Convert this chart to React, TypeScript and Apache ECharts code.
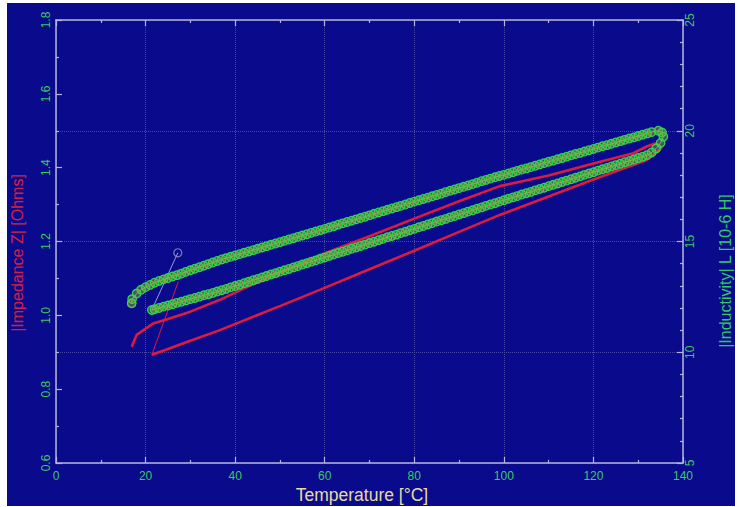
import React, { useEffect, useRef } from "react";
import * as echarts from "echarts";

// Temperature axis ticks / ranges
const xTicks = { min: 0, max: 140, interval: 20 };
const zTicks = { min: 0.6, max: 1.8, interval: 0.2 };
const lTicks = { min: 5, max: 25, interval: 5 };

// |Impedance Z| [Ohms] vs temperature [°C]
const redStart: number[][] = [[27.3, 1.091], [21.4, 0.893]];
const redHeating: number[][] = [
  [21.4, 0.893], [25, 0.909], [30, 0.931], [36.6, 0.96], [45, 1.001], [50, 1.025],
  [58.9, 1.069], [70, 1.125], [80, 1.175], [90, 1.226], [99.1, 1.272], [110, 1.322],
  [120, 1.368], [131.9, 1.421], [134.5, 1.445], [135.2, 1.455],
];
const redCooling: number[][] = [
  [135.2, 1.455], [134, 1.466], [132, 1.458], [128.9, 1.439], [120, 1.411], [110, 1.379],
  [103.6, 1.362], [99.1, 1.35], [90, 1.309], [80, 1.262], [70, 1.214], [58.9, 1.163],
  [50, 1.116], [42, 1.073], [36.6, 1.042], [30, 1.01], [25, 0.99], [21.7, 0.978],
  [18, 0.947], [16.9, 0.915],
];

// |Inductivity| L [10-6 H] vs temperature [°C]
const greenStart: number[][] = [[27.2, 14.49], [21.4, 11.91]];
const greenEnds: number[][] = [[27.2, 14.49], [16.9, 12.21]];
const greenHeating: number[][] = [
  [21.4, 11.91], [22, 11.94], [23, 12.0], [24, 12.06], [25, 12.11], [26, 12.17], [27, 12.23], [28, 12.28], [29, 12.34], [30, 12.4],
  [31, 12.45], [32, 12.51], [33, 12.57], [34, 12.62], [35, 12.68], [36, 12.74], [37, 12.8], [38, 12.86], [39, 12.93], [40, 12.99],
  [41, 13.05], [42, 13.12], [43, 13.18], [44, 13.25], [45, 13.31], [46, 13.38], [47, 13.44], [48, 13.51], [49, 13.57], [50, 13.64],
  [51, 13.7], [52, 13.76], [53, 13.83], [54, 13.89], [55, 13.96], [56, 14.02], [57, 14.09], [58, 14.15], [59, 14.22], [60, 14.28],
  [61, 14.35], [62, 14.41], [63, 14.48], [64, 14.54], [65, 14.6], [66, 14.67], [67, 14.73], [68, 14.8], [69, 14.86], [70, 14.93],
  [71, 14.99], [72, 15.06], [73, 15.12], [74, 15.19], [75, 15.25], [76, 15.31], [77, 15.38], [78, 15.44], [79, 15.51], [80, 15.57],
  [81, 15.64], [82, 15.7], [83, 15.77], [84, 15.83], [85, 15.9], [86, 15.96], [87, 16.02], [88, 16.09], [89, 16.15], [90, 16.22],
  [91, 16.28], [92, 16.35], [93, 16.41], [94, 16.48], [95, 16.54], [96, 16.61], [97, 16.67], [98, 16.73], [99, 16.8], [100, 16.86],
  [101, 16.93], [102, 16.99], [103, 17.05], [104, 17.12], [105, 17.18], [106, 17.24], [107, 17.31], [108, 17.37], [109, 17.43], [110, 17.5],
  [111, 17.56], [112, 17.62], [113, 17.69], [114, 17.75], [115, 17.81], [116, 17.88], [117, 17.94], [118, 18.01], [119, 18.07], [120, 18.13],
  [121, 18.2], [122, 18.26], [123, 18.32], [124, 18.39], [125, 18.45], [126, 18.51], [127, 18.58], [128, 18.64], [129, 18.7], [130, 18.77],
  [131, 18.83], [132, 18.9], [133, 19.02], [134, 19.2], [135, 19.45], [135.6, 19.73],
];
const greenCooling: number[][] = [
  [135.3, 19.92], [134.5, 20.0], [133, 19.94], [132, 19.88], [131, 19.82], [130, 19.76], [129, 19.7], [128, 19.65], [127, 19.59], [126, 19.53],
  [125, 19.47], [124, 19.41], [123, 19.35], [122, 19.3], [121, 19.24], [120, 19.18], [119, 19.12], [118, 19.06], [117, 19.0], [116, 18.95],
  [115, 18.89], [114, 18.83], [113, 18.77], [112, 18.71], [111, 18.65], [110, 18.6], [109, 18.54], [108, 18.48], [107, 18.42], [106, 18.36],
  [105, 18.3], [104, 18.25], [103, 18.19], [102, 18.13], [101, 18.07], [100, 18.01], [99, 17.96], [98, 17.9], [97, 17.84], [96, 17.78],
  [95, 17.72], [94, 17.65], [93, 17.59], [92, 17.53], [91, 17.47], [90, 17.41], [89, 17.35], [88, 17.29], [87, 17.23], [86, 17.16],
  [85, 17.1], [84, 17.04], [83, 16.98], [82, 16.92], [81, 16.86], [80, 16.8], [79, 16.74], [78, 16.67], [77, 16.61], [76, 16.55],
  [75, 16.49], [74, 16.43], [73, 16.37], [72, 16.31], [71, 16.25], [70, 16.18], [69, 16.12], [68, 16.06], [67, 16.0], [66, 15.94],
  [65, 15.88], [64, 15.82], [63, 15.76], [62, 15.69], [61, 15.63], [60, 15.57], [59, 15.51], [58, 15.45], [57, 15.39], [56, 15.33],
  [55, 15.27], [54, 15.21], [53, 15.15], [52, 15.09], [51, 15.03], [50, 14.97], [49, 14.91], [48, 14.85], [47, 14.79], [46, 14.73],
  [45, 14.67], [44, 14.61], [43, 14.55], [42, 14.49], [41, 14.43], [40, 14.37], [39, 14.31], [38, 14.25], [37, 14.19], [36, 14.12],
  [35, 14.05], [34, 13.98], [33, 13.91], [32, 13.84], [31, 13.77], [30, 13.7], [29, 13.63], [28, 13.55], [27, 13.48], [26, 13.42],
  [25, 13.35], [24, 13.29], [23, 13.22], [22, 13.14], [21, 13.04], [20, 12.94], [19, 12.82], [18, 12.65], [17, 12.4], [16.9, 12.21],
];

const xName = "Temperature [°C]";
const zName = "|Impedance Z| [Ohms]";
const lName = "|Inductivity| L [10-6 H]";

const NAVY = "#0a0a8c";
const AXIS = "#b4b4dc";
const GRIDC = "#4848a8";
const LABEL = "#3cc860";
const RED = "#dc1c3c";
const FONT = "'Liberation Sans', Arial, sans-serif";

export default function App() {
  const ref = useRef<HTMLDivElement>(null);
  useEffect(() => {
    if (!ref.current) return;
    const chart = echarts.init(ref.current, undefined, { renderer: "svg" });
    const axisCommon = {
      type: "value" as const,
      axisLine: { show: true, onZero: false, lineStyle: { color: AXIS, width: 1.5 } },
      axisTick: { show: true, inside: true, length: 6, lineStyle: { color: AXIS, width: 1.2 } },
      minorTick: { show: true, length: 3, lineStyle: { color: AXIS, width: 1.2 } },
    };
    const dotted = { show: true, lineStyle: { type: "dotted" as const, color: GRIDC, width: 1 } };
    const greenItem = { color: "rgba(150,175,40,0.45)", borderColor: "#2ed650", borderWidth: 1.3 };
    chart.setOption({
      animation: false,
      backgroundColor: NAVY,
      grid: { left: 49, right: 52, top: 17, bottom: 43, containLabel: false },
      xAxis: [
        {
          ...axisCommon,
          position: "bottom",
          ...xTicks,
          minorTick: { ...axisCommon.minorTick, splitNumber: 2 },
          axisLabel: { color: LABEL, fontSize: 12, margin: 7, fontFamily: FONT },
          splitLine: dotted,
        },
        {
          ...axisCommon,
          position: "top",
          ...xTicks,
          minorTick: { ...axisCommon.minorTick, splitNumber: 2 },
          axisLabel: { show: false },
          splitLine: { show: false },
        },
      ],
      yAxis: [
        {
          ...axisCommon,
          position: "left",
          ...zTicks,
          minorTick: { ...axisCommon.minorTick, splitNumber: 2 },
          axisLabel: {
            color: LABEL, fontSize: 12, margin: 4, rotate: 90, fontFamily: FONT,
            formatter: (v: number) => v.toFixed(1),
          },
          splitLine: { show: false },
        },
        {
          ...axisCommon,
          position: "right",
          ...lTicks,
          minorTick: { ...axisCommon.minorTick, splitNumber: 5 },
          axisLabel: { color: LABEL, fontSize: 12, margin: 1, rotate: 90, fontFamily: FONT },
          splitLine: dotted,
        },
      ],
      graphic: [
        {
          type: "text", x: 10.5, y: 250, rotation: Math.PI / 2,
          style: { text: zName, fill: "#d42040", font: `16px ${FONT}`, align: "center", verticalAlign: "middle", textAlign: "center", textVerticalAlign: "middle" },
        },
        {
          type: "text", x: 718, y: 268, rotation: Math.PI / 2,
          style: { text: lName, fill: "#34c860", font: `16px ${FONT}`, align: "center", verticalAlign: "middle", textAlign: "center", textVerticalAlign: "middle" },
        },
        {
          type: "text", x: 355, y: 492,
          style: { text: xName, fill: "#e6dc9c", font: `17.5px ${FONT}`, align: "center", verticalAlign: "middle", textAlign: "center", textVerticalAlign: "middle" },
        },
      ],
      series: [
        {
          type: "line", xAxisIndex: 0, yAxisIndex: 0, data: redStart, symbol: "none",
          lineStyle: { color: RED, width: 1 },
        },
        {
          type: "line", xAxisIndex: 0, yAxisIndex: 0, data: [...redHeating, ...redCooling], symbol: "none",
          lineStyle: { color: RED, width: 2.6 },
        },
        {
          type: "line", xAxisIndex: 0, yAxisIndex: 1, data: greenStart, symbol: "none",
          lineStyle: { color: "#9a9ad0", width: 1 },
        },
        {
          type: "line", xAxisIndex: 0, yAxisIndex: 1, data: [...greenHeating, ...greenCooling],
          symbol: "circle", symbolSize: 8.5, itemStyle: greenItem,
          lineStyle: { color: "#9a9ad0", width: 1 },
        },
        {
          type: "scatter", xAxisIndex: 0, yAxisIndex: 1, data: greenEnds,
          symbol: "circle", symbolSize: 8,
          itemStyle: { color: "transparent", borderColor: "#9a9ad0", borderWidth: 1.2 },
        },
      ],
    });
    return () => chart.dispose();
  }, []);
  return (
    <div style={{ position: "fixed", left: 0, top: 0, width: 739, height: 507, background: "#ffffff" }}>
      <div ref={ref} style={{ position: "absolute", left: 7, top: 3, width: 728, height: 503 }} />
    </div>
  );
}
